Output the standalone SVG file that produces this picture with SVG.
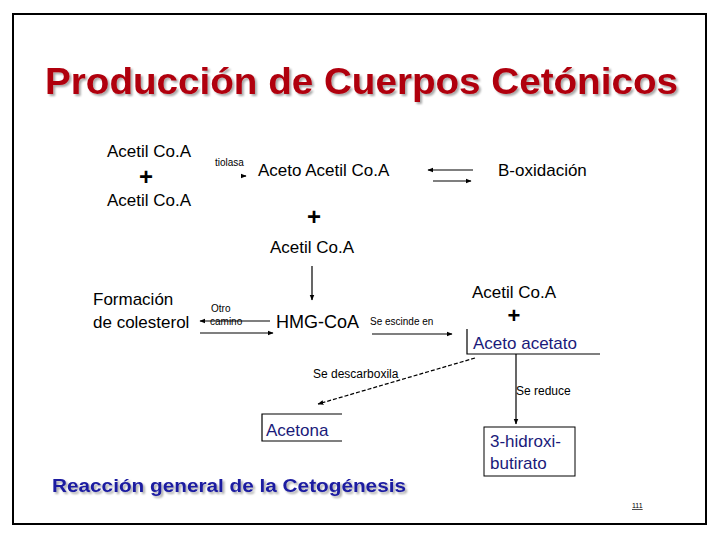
<svg xmlns="http://www.w3.org/2000/svg" width="720" height="540" viewBox="0 0 720 540">
<defs>
<marker id="ah" viewBox="0 0 10 10" refX="9" refY="5" markerWidth="5" markerHeight="5" orient="auto-start-reverse"><path d="M0,1 L10,5 L0,9 z" fill="#000"/></marker>
<filter id="sh" x="-5%" y="-20%" width="110%" height="140%"><feGaussianBlur in="SourceAlpha" stdDeviation="1"/><feOffset dx="2" dy="2"/><feComponentTransfer><feFuncA type="linear" slope="0.35"/></feComponentTransfer><feMerge><feMergeNode/><feMergeNode in="SourceGraphic"/></feMerge></filter>
</defs>
<style>
text{font-family:"Liberation Sans",Arial,sans-serif;fill:#000}
.t{font-size:17px}
.s{font-size:10px}
.b{fill:#1a1a7a}
.p{font-size:24px;font-weight:bold}
.l{stroke:#000;stroke-width:1.2;fill:none}
</style>
<rect x="0" y="0" width="720" height="540" fill="#fff"/>
<rect x="13" y="14" width="693" height="510" fill="none" stroke="#000" stroke-width="2"/>
<text x="45" y="94" style="font-size:36px;font-weight:bold;fill:#b0000f" filter="url(#sh)" textLength="633" lengthAdjust="spacingAndGlyphs">Producción de Cuerpos Cetónicos</text>
<g id="acetil1"><text class="t" x="107" y="157">Acetil Co.A</text><text class="p" x="146" y="185" text-anchor="middle">+</text><text class="t" x="107" y="206">Acetil Co.A</text></g>
<g id="tiolasa"><text class="s" x="215" y="166">tiolasa</text></g>
<g id="acetoacetilcoa"><text class="t" x="258" y="176">Aceto Acetil Co.A</text></g>
<g id="boxidacion"><text class="t" x="498" y="176">B-oxidación</text></g>
<g id="acetil2"><text class="p" x="314" y="225" text-anchor="middle">+</text><text class="t" x="270" y="253">Acetil Co.A</text></g>
<g id="colesterol"><text class="t" x="93" y="305">Formación</text><text class="t" x="93" y="328">de colesterol</text></g>
<g id="otrocamino"><text class="s" x="211" y="312">Otro</text><text class="s" x="210" y="325">camino</text></g>
<g id="hmgcoa"><text x="276" y="328" style="font-size:18px">HMG-CoA</text></g>
<g id="seescinde"><text class="s" x="370" y="325">Se escinde en</text></g>
<g id="acetil3"><text class="t" x="472" y="298">Acetil Co.A</text><text class="p" x="514" y="323" text-anchor="middle" style="font-size:22px">+</text></g>
<g id="acetoacetato"><text class="t b" x="473" y="349">Aceto acetato</text><path class="l" d="M467,329 V354 H600" stroke-width="1"/></g>
<g id="acetona"><path class="l" d="M342,414 H262 V441 H342" stroke-width="1"/><text class="t b" x="266" y="436">Acetona</text></g>
<g id="hidroxibutirato"><rect x="484" y="427" width="91" height="49" fill="none" stroke="#000" stroke-width="1"/><text class="t b" x="490" y="447">3-hidroxi-</text><text class="t b" x="490" y="469">butirato</text></g>
<g id="labels"><text class="s" x="313" y="378" style="font-size:12px">Se descarboxila</text><text class="s" x="516" y="395" style="font-size:12px">Se reduce</text></g>
<g id="connectors">
<path class="l" d="M241,176 L246,176" marker-end="url(#ah)" stroke-width="0.5"/>
<path class="l" d="M473,170 H428" marker-end="url(#ah)"/>
<path class="l" d="M433,181 H471" marker-end="url(#ah)"/>
<path class="l" d="M312,266 V300" marker-end="url(#ah)"/>
<path class="l" d="M270,321 H200" marker-end="url(#ah)"/>
<path class="l" d="M200,333 H273" marker-end="url(#ah)"/>
<path class="l" d="M372,334 H452" marker-end="url(#ah)"/>
<path class="l" d="M475,358 L318,404" stroke-dasharray="4,2" marker-end="url(#ah)"/>
<path class="l" d="M516,354 V424" marker-end="url(#ah)"/>
</g>
<text x="52" y="492" style="font-size:18px;font-weight:bold;fill:#1a1aa0" filter="url(#sh)" textLength="354" lengthAdjust="spacingAndGlyphs">Reacción general de la Cetogénesis</text>
<text x="632" y="508" style="font-size:7px;text-decoration:underline">111</text>
</svg>
